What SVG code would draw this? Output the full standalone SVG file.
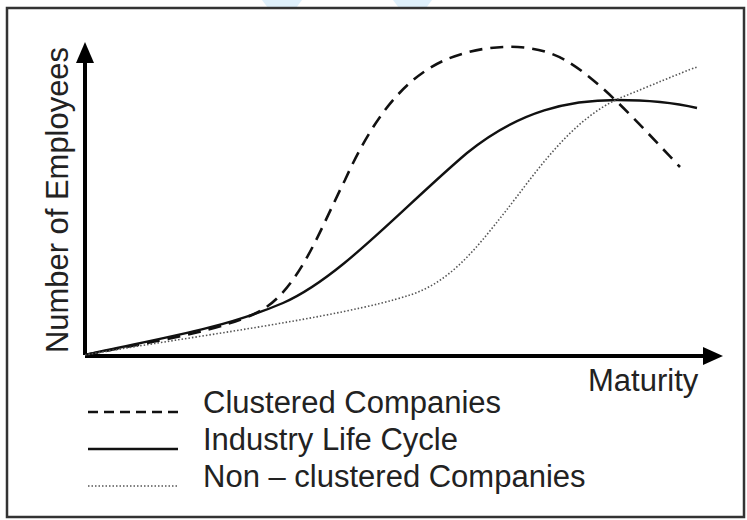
<svg xmlns="http://www.w3.org/2000/svg" width="747" height="520" viewBox="0 0 747 520">
  <defs>
    <style>
      .lbl { font-family: "Liberation Sans", Arial, sans-serif; font-size: 31px; fill: #222; }
      .axis { stroke: #000; stroke-width: 4; fill: none; }
      .dash { stroke: #111; stroke-width: 2.6; fill: none; stroke-dasharray: 13 8; }
      .solid { stroke: #111; stroke-width: 2.4; fill: none; }
      .dot { stroke: #555; stroke-width: 1.6; fill: none; stroke-dasharray: 1.5 2; }
    </style>
  </defs>
  <rect width="747" height="520" fill="#fff"/>
  <g id="watermark" fill="#dff0fb">
    <polygon points="262,0 302,0 296,8 268,8"/>
    <polygon points="393,0 432,0 426,8 399,8"/>
  </g>
  <rect id="frame" x="7" y="8" width="737" height="509" fill="none" stroke="#333" stroke-width="2.5"/>
  <g id="axes">
    <path class="axis" d="M85,355 V60"/>
    <polygon points="85,42 94,63 76,63" fill="#000"/>
    <path class="axis" d="M85,356 H705"/>
    <polygon points="723,356 703,347 703,365" fill="#000"/>
    <text class="lbl" transform="translate(68,353) rotate(-90)" font-size="34" textLength="306" lengthAdjust="spacingAndGlyphs">Number of Employees</text>
    <text class="lbl" x="588" y="391">Maturity</text>
  </g>
  <g id="connectors">
    <path id="clustered" class="dash" d="M85,355 C150,342 230,330 265,308 C300,285 320,230 345,180 C370,125 400,80 445,60 C480,45 530,40 565,60 C600,80 640,125 680,167"/>
    <path id="lifecycle" class="solid" d="M85,355 C150,340 220,330 283,303 C340,278 400,210 467,153 C520,110 570,100 617,100 C650,100 680,104 697,108"/>
    <path id="nonclustered" class="dot" d="M85,355 C180,338 340,318 410,295 C450,282 475,250 505,212 C535,174 570,120 620,98 C650,86 680,73 697,67"/>
  </g>
  <g id="legend">
    <g id="legend-clustered">
      <line x1="88" y1="412" x2="178" y2="412" stroke="#111" stroke-width="2.4" stroke-dasharray="10 6"/>
      <text class="lbl" x="203" y="413">Clustered Companies</text>
    </g>
    <g id="legend-lifecycle">
      <line x1="88" y1="449" x2="178" y2="449" stroke="#111" stroke-width="2.6"/>
      <text class="lbl" x="203" y="450">Industry Life Cycle</text>
    </g>
    <g id="legend-nonclustered">
      <line x1="88" y1="486" x2="178" y2="486" stroke="#555" stroke-width="1.6" stroke-dasharray="1.5 2"/>
      <text class="lbl" x="203" y="487">Non – clustered Companies</text>
    </g>
  </g>
</svg>
